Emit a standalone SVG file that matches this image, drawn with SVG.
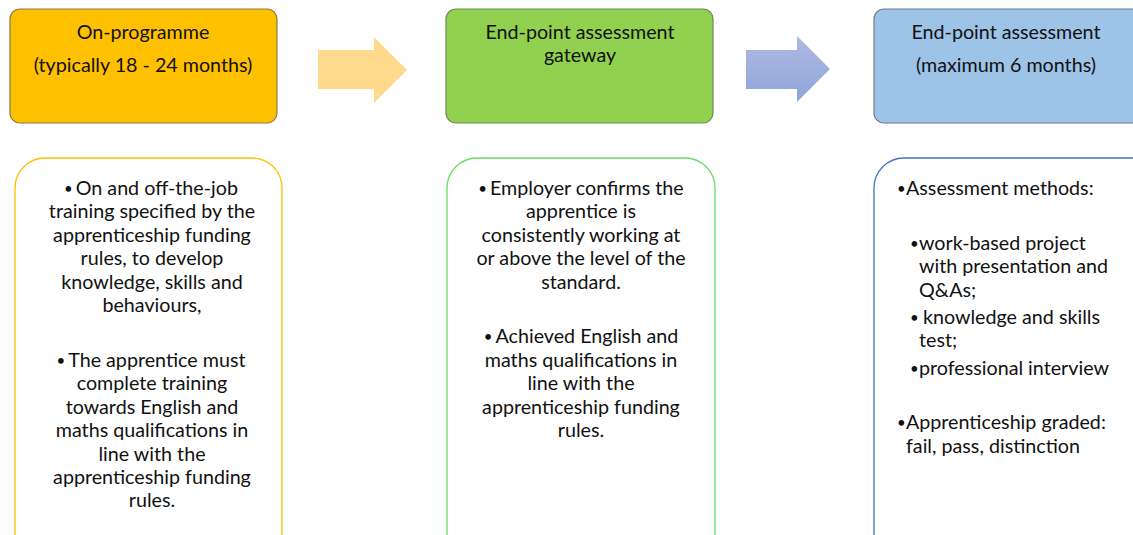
<svg xmlns="http://www.w3.org/2000/svg" width="1133" height="535" viewBox="0 0 1133 535">
<defs>
<linearGradient id="blueArrow" x1="0" y1="0" x2="0" y2="1">
<stop offset="0" stop-color="#AEBBE2"/>
<stop offset="1" stop-color="#8EA4D9"/>
</linearGradient>
<style>
text{font-family:Lato,"Open Sans","Liberation Sans",sans-serif;font-size:19.7px;fill:#111}
.c{text-anchor:middle}
.b{font-size:15px}
.hdr{stroke-width:1.2}
.panel{fill:#fff;stroke-width:1.3}
</style>
</defs>
<rect width="1133" height="535" fill="#fff"/>
<g id="node-onprog">
<rect class="hdr" x="10" y="9" width="267" height="114" rx="10" fill="#FFC000" stroke="#8A7A45"/>
<text class="c" x="143" y="39">On-programme</text>
<text class="c" x="143" y="72">(typically 18 - 24 months)</text>
</g>
<g id="node-gateway">
<rect class="hdr" x="446" y="9" width="267" height="114" rx="10" fill="#92D050" stroke="#6E8A55"/>
<text class="c" x="580" y="39">End-point assessment</text>
<text class="c" x="580" y="62">gateway</text>
</g>
<g id="node-epa">
<rect class="hdr" x="874" y="9" width="275" height="114" rx="10" fill="#9DC3E6" stroke="#6F7C8A"/>
<text class="c" x="1006" y="39">End-point assessment</text>
<text class="c" x="1006" y="72">(maximum 6 months)</text>
</g>
<g id="connectors">
<polygon points="318,50 374,50 374,37 407,70 374,103 374,89 318,89" fill="#FFD98C"/>
<polygon points="746,50 797,50 797,36 830,69 797,102 797,89 746,89" fill="url(#blueArrow)"/>
</g>
<g id="panel-onprog">
<rect class="panel" x="15" y="158" width="267" height="420" rx="30" stroke="#FFC000"/>
<text class="c" x="151" y="195"><tspan class="b" dy="-1">•</tspan><tspan dx="3" dy="1">On and off-the-job</tspan></text>
<text class="c" x="152" y="218">training specified by the</text>
<text class="c" x="152" y="242">apprenticeship funding</text>
<text class="c" x="152" y="265">rules, to develop</text>
<text class="c" x="152" y="289">knowledge, skills and</text>
<text class="c" x="152" y="312">behaviours,</text>
<text class="c" x="151" y="367"><tspan class="b" dy="-1">•</tspan><tspan dx="3" dy="1">The apprentice must</tspan></text>
<text class="c" x="152" y="390">complete training</text>
<text class="c" x="152" y="414">towards English and</text>
<text class="c" x="152" y="437">maths qualifications in</text>
<text class="c" x="152" y="461">line with the</text>
<text class="c" x="152" y="484">apprenticeship funding</text>
<text class="c" x="152" y="507">rules.</text>
</g>
<g id="panel-gateway">
<rect class="panel" x="447" y="158" width="268" height="420" rx="30" stroke="#66DD66"/>
<text class="c" x="581" y="195"><tspan class="b" dy="-1">•</tspan><tspan dx="3" dy="1">Employer confirms the</tspan></text>
<text class="c" x="581" y="218">apprentice is</text>
<text class="c" x="581" y="242">consistently working at</text>
<text class="c" x="581" y="265">or above the level of the</text>
<text class="c" x="581" y="289">standard.</text>
<text class="c" x="581" y="343"><tspan class="b" dy="-1">•</tspan><tspan dx="3" dy="1">Achieved English and</tspan></text>
<text class="c" x="581" y="367">maths qualifications in</text>
<text class="c" x="581" y="390">line with the</text>
<text class="c" x="581" y="414">apprenticeship funding</text>
<text class="c" x="581" y="437">rules.</text>
</g>
<g id="panel-epa">
<rect class="panel" x="874" y="158" width="290" height="420" rx="30" stroke="#4472C4"/>
<text x="897" y="194"><tspan class="b">•</tspan><tspan x="906" y="195">Assessment methods:</tspan></text>
<text x="910" y="249"><tspan class="b">•</tspan><tspan x="919" y="250">work-based project</tspan></text>
<text x="919" y="273">with presentation and</text>
<text x="919" y="297">Q&amp;As;</text>
<text x="910" y="323"><tspan class="b">•</tspan><tspan x="923" y="324">knowledge and skills</tspan></text>
<text x="919" y="347">test;</text>
<text x="910" y="374"><tspan class="b">•</tspan><tspan x="919" y="375">professional interview</tspan></text>
<text x="897" y="428"><tspan class="b">•</tspan><tspan x="906" y="429">Apprenticeship graded:</tspan></text>
<text x="906" y="453">fail, pass, distinction</text>
</g>
</svg>
